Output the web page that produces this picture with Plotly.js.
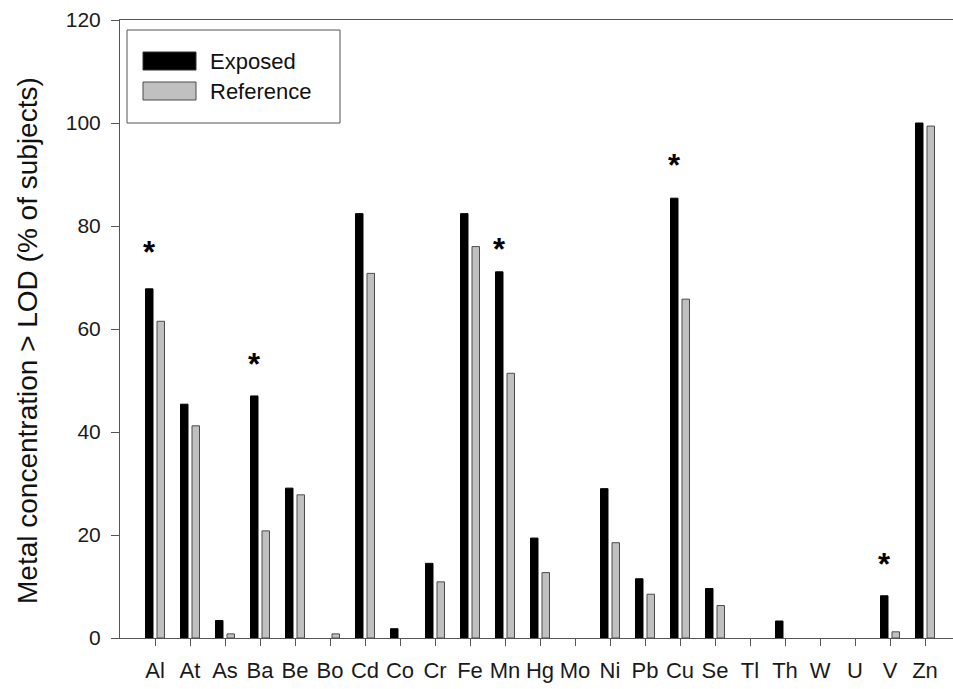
<!DOCTYPE html>
<html>
<head>
<meta charset="utf-8">
<script src="https://cdn.plot.ly/plotly-3.0.1.min.js"></script>
<style>
  html, body { margin: 0; padding: 0; background: #ffffff; }
  #chart { width: 953px; height: 689px; }
</style>
</head>
<body>
<div id="chart"></div>
<script>
// ---- data ----
var metals = ["Al","At","As","Ba","Be","Bo","Cd","Co","Cr","Fe","Mn","Hg","Mo","Ni","Pb","Cu","Se","Tl","Th","W","U","V","Zn"];
var exposedPct = [67.8, 45.4, 3.4, 47.0, 29.1, 0, 82.4, 1.8, 14.5, 82.4, 71.1, 19.4, 0, 29.0, 11.5, 85.4, 9.6, 0, 3.3, 0, 0, 8.2, 100];
var referencePct = [61.5, 41.2, 0.8, 20.8, 27.8, 0.8, 70.8, 0, 10.9, 76.0, 51.4, 12.7, 0, 18.5, 8.5, 65.8, 6.3, 0, 0, 0, 0, 1.2, 99.4];
var seriesNames = ["Exposed", "Reference"];
var sigMetals = ["Al", "Ba", "Mn", "Cu", "V"];
var sigStarY = [76.3, 54.4, 76.8, 93.2, 15.7];
var yTitle = "Metal concentration > LOD (% of subjects)";

// ---- layout geometry (pixels) ----
var W = 953, H = 689;
var M = {l: 120, r: 0, t: 20, b: 51};
var plotW = W - M.l - M.r, plotH = H - M.t - M.b;
function px(x) { return (x - M.l) / plotW; }
function py(y) { return (H - M.b - y) / plotH; }

var FONT = "Liberation Sans, Arial, sans-serif";

// no outline on empty (0 %) bars
function outlineWidths(vals) { return vals.map(function (v) { return v > 0 ? 1 : 0; }); }

var traces = [
  {
    type: "bar", name: seriesNames[0], x: metals, y: exposedPct,
    marker: {color: "#000000", line: {color: "#000000", width: outlineWidths(exposedPct)}},
    showlegend: false, hoverinfo: "x+y"
  },
  {
    type: "bar", name: seriesNames[1], x: metals, y: referencePct,
    marker: {color: "#c0c0c0", line: {color: "#4a4a4a", width: outlineWidths(referencePct)}},
    showlegend: false, hoverinfo: "x+y"
  }
];

// significance asterisks (above the Exposed bar)
var annotations = sigMetals.map(function (m, i) {
  return {
    x: m, y: sigStarY[i], xref: "x", yref: "y",
    text: "<b>*</b>", showarrow: false, xshift: -5.5, yshift: -7,
    xanchor: "center", yanchor: "middle",
    font: {family: FONT, size: 31, color: "#000000"}
  };
});

// custom legend text
annotations.push({
  xref: "paper", yref: "paper", x: px(208), y: py(61), text: seriesNames[0],
  showarrow: false, xanchor: "left", yanchor: "middle",
  font: {family: FONT, size: 22, color: "#111111"}
});
annotations.push({
  xref: "paper", yref: "paper", x: px(208), y: py(91), text: seriesNames[1],
  showarrow: false, xanchor: "left", yanchor: "middle",
  font: {family: FONT, size: 22, color: "#111111"}
});

// y-axis title placed as rotated text
annotations.push({
  xref: "paper", yref: "paper", x: px(27), y: py(341), text: yTitle,
  showarrow: false, textangle: -90, xanchor: "center", yanchor: "middle",
  font: {family: FONT, size: 28, color: "#111111"}
});

var shapes = [
  // legend box
  {type: "rect", xref: "paper", yref: "paper", x0: px(127), x1: px(340), y0: py(123), y1: py(30),
   line: {color: "#555555", width: 1}, fillcolor: "rgba(255,255,255,1)", layer: "above"},
  // legend swatches
  {type: "rect", xref: "paper", yref: "paper", x0: px(143), x1: px(196), y0: py(70), y1: py(52),
   line: {color: "#333333", width: 1}, fillcolor: "#000000", layer: "above"},
  {type: "rect", xref: "paper", yref: "paper", x0: px(143), x1: px(196), y0: py(100), y1: py(82),
   line: {color: "#4a4a4a", width: 1}, fillcolor: "#c0c0c0", layer: "above"}
];

var layout = {
  width: W, height: H,
  margin: M,
  paper_bgcolor: "#ffffff", plot_bgcolor: "#ffffff",
  font: {family: FONT, size: 21, color: "#222222"},
  barmode: "group",
  bargap: 0.343,
  bargroupgap: 0.35,
  xaxis: {
    type: "category",
    range: [-1, 22.8],
    showgrid: false, zeroline: false,
    showline: true, linecolor: "#555555", linewidth: 1,
    mirror: true,
    ticks: "outside", ticklen: 7, tickcolor: "#555555", tickwidth: 1,
    ticklabelstandoff: 6,
    tickfont: {family: FONT, size: 22, color: "#1a1a1a"},
    automargin: false
  },
  yaxis: {
    range: [0, 120], dtick: 20, tick0: 0,
    showgrid: false, zeroline: false,
    showline: true, linecolor: "#555555", linewidth: 1,
    ticks: "outside", ticklen: 8, tickcolor: "#555555", tickwidth: 1,
    ticklabelstandoff: 6,
    tickfont: {family: FONT, size: 21, color: "#1a1a1a"},
    automargin: false
  },
  annotations: annotations,
  shapes: shapes
};

Plotly.newPlot("chart", traces, layout, {displayModeBar: false, staticPlot: true});
</script>
</body>
</html>
